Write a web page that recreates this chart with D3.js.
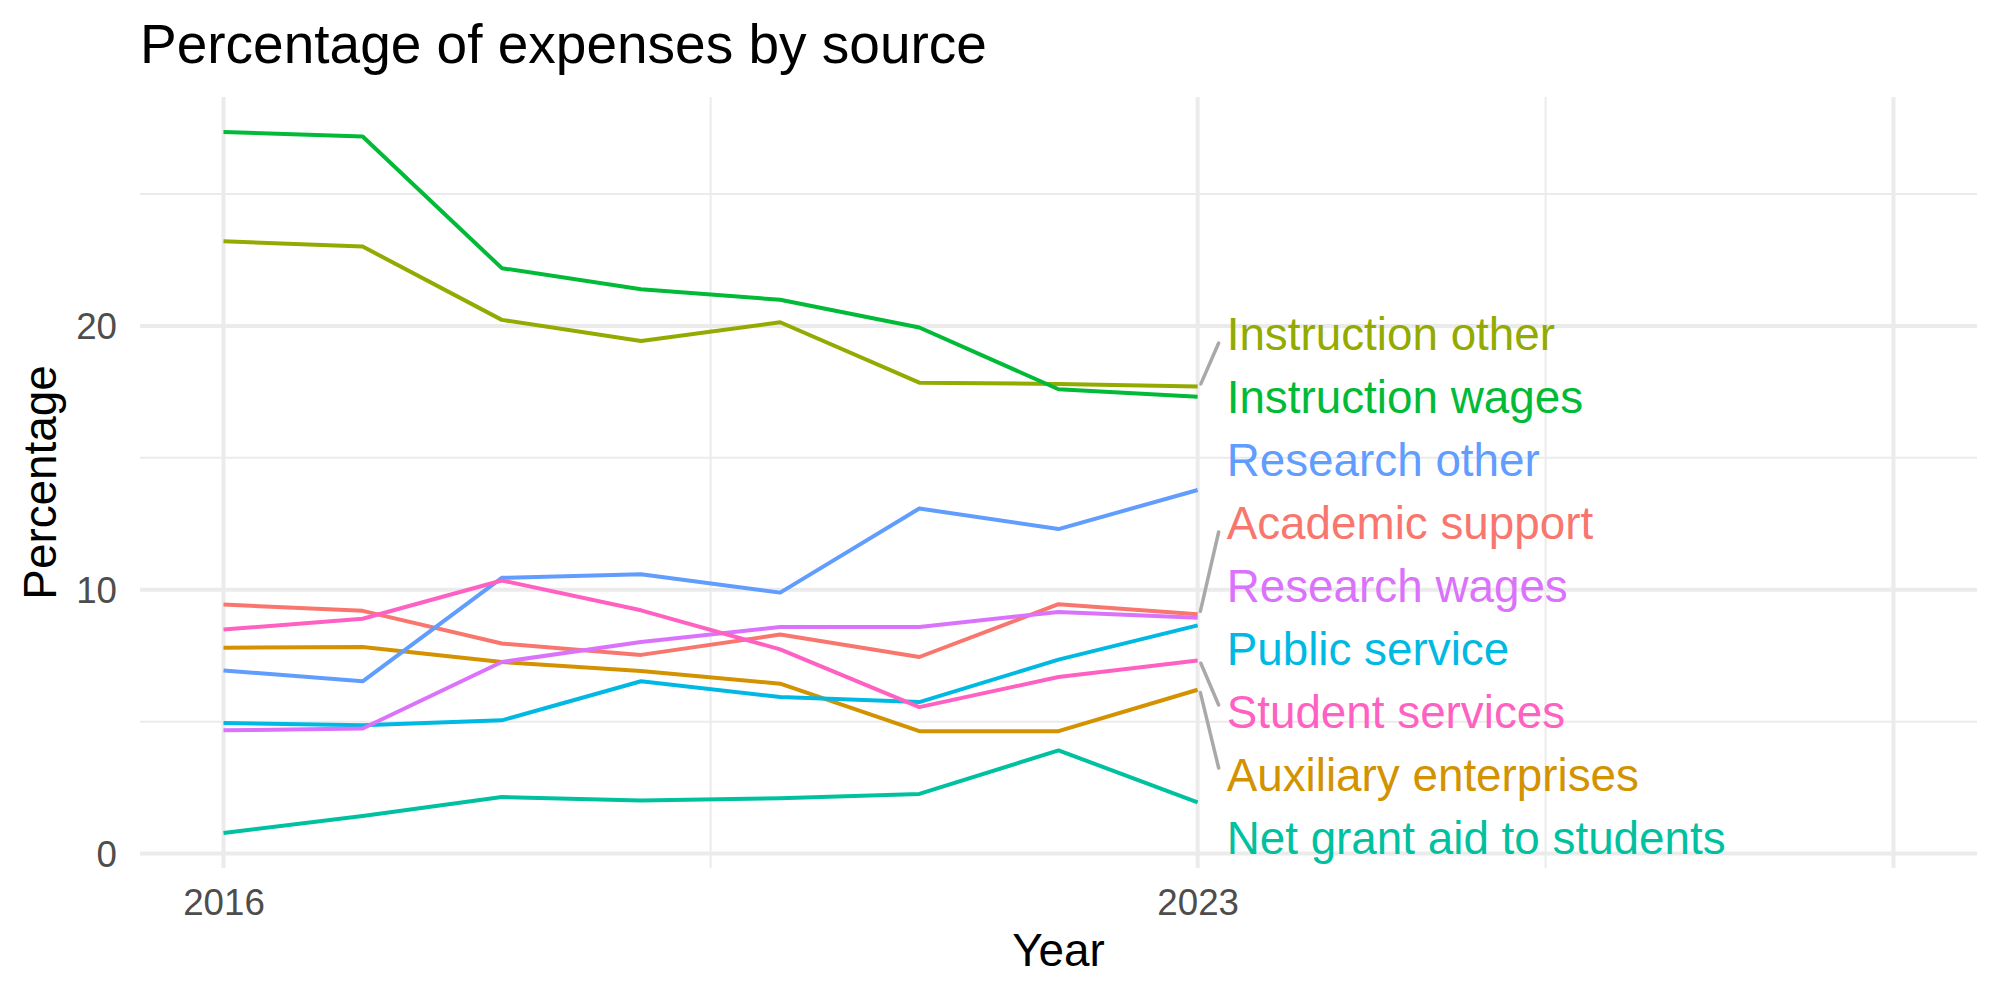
<!DOCTYPE html>
<html>
<head>
<meta charset="utf-8">
<script src="https://cdn.jsdelivr.net/npm/d3@7"></script>
<style>
  html, body { margin: 0; padding: 0; background: #fff; }
  svg { display: block; font-family: "Liberation Sans", Arial, Helvetica, sans-serif; }
</style>
</head>
<body>
<div id="chart"></div>
<script>
// data
const years = [2016, 2017, 2018, 2019, 2020, 2021, 2022, 2023];
const sources = [
  "Academic support", "Auxiliary enterprises", "Instruction other", "Instruction wages",
  "Net grant aid to students", "Public service", "Research other", "Research wages", "Student services"
];
const academicSupport = [9.44, 9.2, 7.96, 7.53, 8.3, 7.45, 9.45, 9.07];
const auxiliaryEnterprises = [7.8, 7.83, 7.26, 6.92, 6.44, 4.64, 4.64, 6.21];
const instructionOther = [23.21, 23.01, 20.23, 19.43, 20.14, 17.85, 17.8, 17.7];
const instructionWages = [27.35, 27.18, 22.19, 21.39, 20.99, 19.94, 17.6, 17.32];
const netGrantAid = [0.78, 1.42, 2.14, 2.01, 2.1, 2.26, 3.91, 1.94];
const publicService = [4.95, 4.86, 5.05, 6.53, 5.93, 5.74, 7.35, 8.65];
const researchOther = [6.94, 6.53, 10.45, 10.59, 9.89, 13.08, 12.3, 13.78];
const researchWages = [4.67, 4.74, 7.26, 8.02, 8.59, 8.59, 9.16, 8.94];
const studentServices = [8.49, 8.9, 10.35, 9.22, 7.74, 5.55, 6.69, 7.32];
const seriesValues = [
  academicSupport, auxiliaryEnterprises, instructionOther, instructionWages,
  netGrantAid, publicService, researchOther, researchWages, studentServices
];
const xBreaks = [2016, 2023, 2028];
const xLabels = ["2016", "2023", ""];
const xMinor = [2019.5, 2025.5];
const yBreaks = [0, 10, 20];
const yMinor = [5, 15, 25];

const W = 2000, H = 1000;
const PANEL = {left: 140, right: 1977, top: 97, bottom: 868};
const colors = ["#F8766D", "#D39200", "#93AA00", "#00BA38", "#00C19F", "#00B9E3", "#619CFF", "#DB72FB", "#FF61C3"];

const series = sources.map((name, i) => ({
  name,
  color: colors[i],
  values: years.map((yr, j) => ({x: yr, y: seriesValues[i][j]}))
}));

const svg = d3.select("#chart").append("svg")
  .attr("width", W)
  .attr("height", H);

const x = d3.scaleLinear()
  .domain([2015.4, 2028.6])
  .range([PANEL.left, PANEL.right]);

const allY = seriesValues.flat();
const yMin = d3.min(allY), yMax = d3.max(allY);
const pad = (yMax - yMin) * 0.05;
const y = d3.scaleLinear()
  .domain([yMin - pad, yMax + pad])
  .range([PANEL.bottom, PANEL.top]);

// grid
const grid = svg.append("g");
grid.selectAll(".ymin").data(yMinor).enter().append("line")
  .attr("x1", PANEL.left).attr("x2", PANEL.right)
  .attr("y1", d => y(d)).attr("y2", d => y(d))
  .attr("stroke", "#EBEBEB").attr("stroke-width", 2);
grid.selectAll(".xmin").data(xMinor).enter().append("line")
  .attr("y1", PANEL.top).attr("y2", PANEL.bottom)
  .attr("x1", d => x(d)).attr("x2", d => x(d))
  .attr("stroke", "#EBEBEB").attr("stroke-width", 2);
grid.selectAll(".ymaj").data(yBreaks).enter().append("line")
  .attr("x1", PANEL.left).attr("x2", PANEL.right)
  .attr("y1", d => y(d)).attr("y2", d => y(d))
  .attr("stroke", "#EBEBEB").attr("stroke-width", 4);
grid.selectAll(".xmaj").data(xBreaks).enter().append("line")
  .attr("y1", PANEL.top).attr("y2", PANEL.bottom)
  .attr("x1", d => x(d)).attr("x2", d => x(d))
  .attr("stroke", "#EBEBEB").attr("stroke-width", 4);

// axes text
const yAxis = d3.axisLeft(y).tickValues(yBreaks).tickSize(0).tickPadding(0);
const gy = svg.append("g").attr("transform", "translate(117,0)").call(yAxis);
gy.select(".domain").remove();
gy.selectAll("text")
  .attr("font-size", 36.7).attr("fill", "#4D4D4D")
  .attr("font-family", "Liberation Sans, Arial, sans-serif")
  .attr("dy", "0.35em");

const xAxis = d3.axisBottom(x).tickValues(xBreaks).tickFormat((d, i) => xLabels[i]).tickSize(0).tickPadding(0);
const gx = svg.append("g").attr("transform", "translate(0,889)").call(xAxis);
gx.select(".domain").remove();
gx.selectAll("text")
  .attr("font-size", 36.7).attr("fill", "#4D4D4D")
  .attr("font-family", "Liberation Sans, Arial, sans-serif")
  .attr("y", 0).attr("dy", "0.71em");

svg.append("text")
  .attr("x", (PANEL.left + PANEL.right) / 2).attr("y", 966)
  .attr("text-anchor", "middle").attr("font-size", 45.8)
  .text("Year");

svg.append("text")
  .attr("transform", `translate(56,${(PANEL.top + PANEL.bottom) / 2}) rotate(-90)`)
  .attr("text-anchor", "middle").attr("font-size", 45.8)
  .text("Percentage");

svg.append("text")
  .attr("x", PANEL.left).attr("y", 63)
  .attr("font-size", 55)
  .text("Percentage of expenses by source");

// lines
const line = d3.line()
  .x(d => x(d.x))
  .y(d => y(d.y));

svg.append("g").selectAll("path")
  .data(series)
  .enter().append("path")
  .attr("fill", "none")
  .attr("stroke", d => d.color)
  .attr("stroke-width", 4)
  .attr("stroke-linejoin", "round")
  .attr("d", d => line(d.values));

// repelled end labels: keep order, enforce min spacing, stay close to targets (PAVA)
const SPACING = 63;
const lastYear = years[years.length - 1];
const ends = series.map(s => ({s, target: y(s.values[s.values.length - 1].y)}))
  .sort((a, b) => a.target - b.target);
let blocks = [];
ends.forEach((e, i) => {
  blocks.push({sum: e.target - SPACING * i, n: 1});
  while (blocks.length > 1) {
    const b = blocks[blocks.length - 1], a = blocks[blocks.length - 2];
    if (a.sum / a.n > b.sum / b.n) {
      blocks.pop();
      a.sum += b.sum; a.n += b.n;
    } else break;
  }
});
let k = 0;
blocks.forEach(b => {
  for (let j = 0; j < b.n; j++, k++) ends[k].pos = b.sum / b.n + SPACING * k;
});

const labelX = x(lastYear) + 29;
const segs = svg.append("g");
ends.forEach(e => {
  const x0 = x(lastYear) + 2;
  const x1 = labelX - 8;
  const y1 = Math.max(e.pos - 8, Math.min(e.pos + 8, e.target));
  const len = Math.hypot(x1 - x0, y1 - e.target);
  if (len > 40) {
    const t = 3 / len;
    segs.append("line")
      .attr("x1", x0 + (x1 - x0) * t).attr("y1", e.target + (y1 - e.target) * t)
      .attr("x2", x1).attr("y2", y1)
      .attr("stroke", "#A9A9A9").attr("stroke-width", 3.5)
      .attr("stroke-linecap", "round");
  }
});

svg.append("g").selectAll("text")
  .data(ends)
  .enter().append("text")
  .attr("x", labelX)
  .attr("y", d => d.pos + 14.5)
  .attr("font-size", 45.8)
  .attr("fill", d => d.s.color)
  .text(d => d.s.name);
</script>
</body>
</html>
